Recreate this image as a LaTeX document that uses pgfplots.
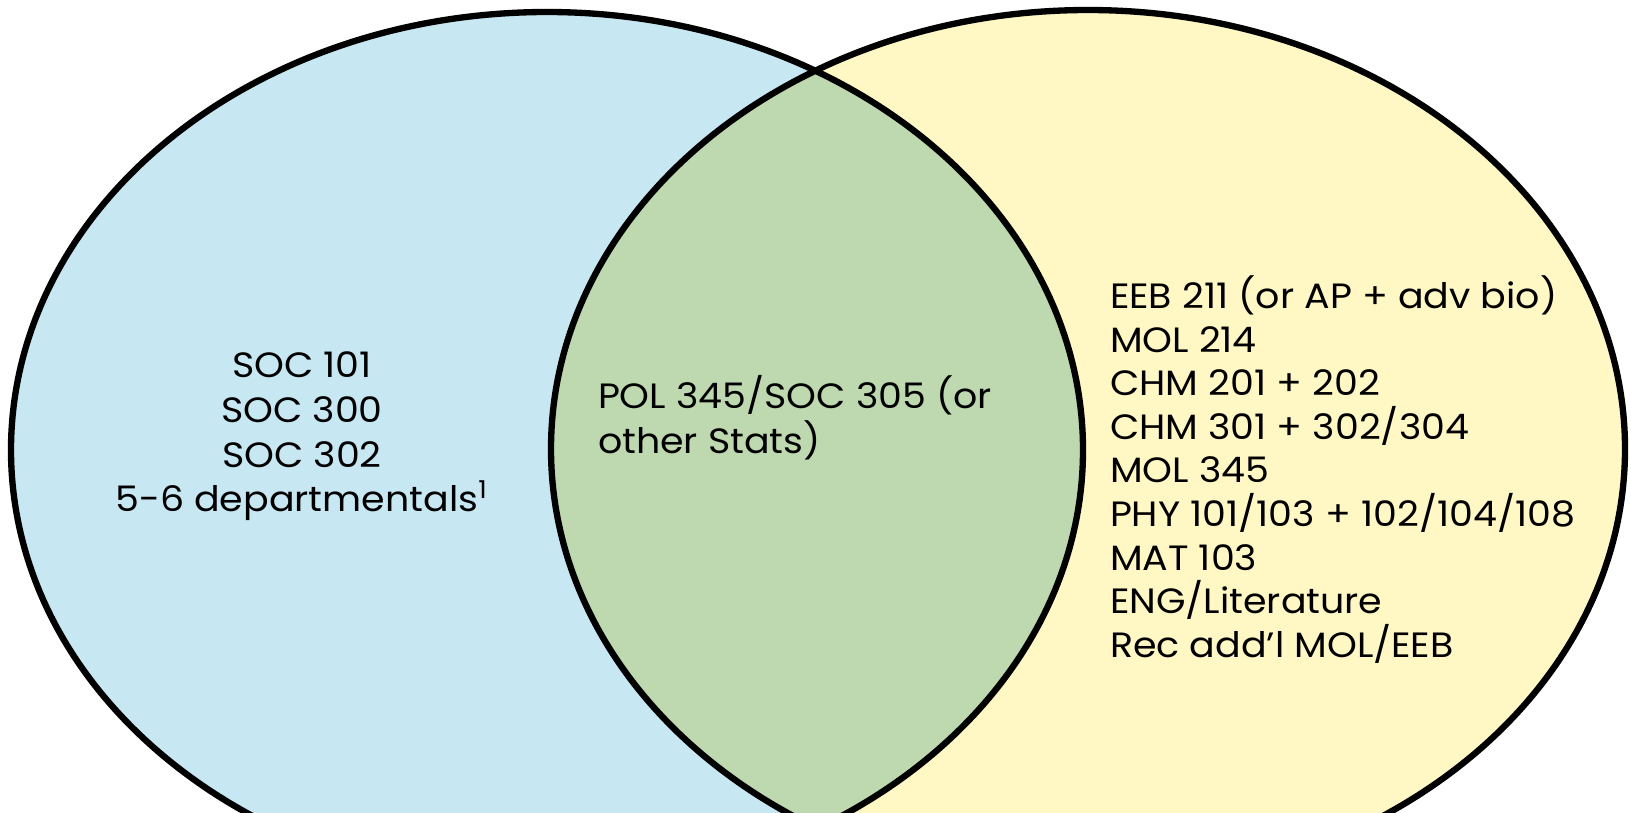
\documentclass[border=0pt]{standalone}
\usepackage{pgfplots}
\pgfplotsset{compat=1.18}
\usepackage{fontspec}
\setmainfont{Poppins}[FakeStretch=1.08]
\definecolor{lblue}{RGB}{199,232,243}
\definecolor{lyellow}{RGB}{255,247,196}
\definecolor{lgreen}{RGB}{190,217,176}
\tikzset{lbl/.style={font=\fontsize{10pt}{12.7pt}\selectfont, inner sep=0pt, outer sep=0pt}}
\begin{document}
\begin{tikzpicture}
\begin{axis}[
  scale only axis, width=16.31cm, height=8.12cm,
  xmin=0, xmax=1631, ymin=0, ymax=812,
  hide axis, clip=true,
]
% left set (blue)
\fill[lblue] (axis cs:547,362) ellipse [x radius=536, y radius=438];
% right set (yellow)
\fill[lyellow] (axis cs:1088,363) ellipse [x radius=537, y radius=439];
% intersection (green)
\begin{scope}
  \clip (axis cs:547,362) ellipse [x radius=536, y radius=438];
  \fill[lgreen] (axis cs:1088,363) ellipse [x radius=537, y radius=439];
\end{scope}
\draw[black, line width=1.8pt] (axis cs:547,362) ellipse [x radius=536, y radius=438];
\draw[black, line width=1.8pt] (axis cs:1088,363) ellipse [x radius=537, y radius=439];
% left texts
\node[lbl, anchor=base] at (axis cs:302,435) {SOC 101};
\node[lbl, anchor=base] at (axis cs:302,390) {SOC 300};
\node[lbl, anchor=base] at (axis cs:302,345) {SOC 302};
\node[lbl, anchor=base] at (axis cs:302,301) {5-6 departmentals\textsuperscript{1}};
% middle texts
\node[lbl, anchor=base west] at (axis cs:598,404) {POL 345/SOC 305 (or};
\node[lbl, anchor=base west] at (axis cs:598,359) {other Stats)};
% right texts
\node[lbl, anchor=base west] at (axis cs:1110,504) {EEB 211 (or AP + adv bio)};
\node[lbl, anchor=base west] at (axis cs:1110,460) {MOL 214};
\node[lbl, anchor=base west] at (axis cs:1110,417) {CHM 201 + 202};
\node[lbl, anchor=base west] at (axis cs:1110,373) {CHM 301 + 302/304};
\node[lbl, anchor=base west] at (axis cs:1110,330) {MOL 345};
\node[lbl, anchor=base west] at (axis cs:1110,286) {PHY 101/103 + 102/104/108};
\node[lbl, anchor=base west] at (axis cs:1110,242) {MAT 103};
\node[lbl, anchor=base west] at (axis cs:1110,199) {ENG/Literature};
\node[lbl, anchor=base west] at (axis cs:1110,155) {Rec add’l MOL/EEB};
\end{axis}
\pgfresetboundingbox
\path[use as bounding box] (current axis.south west) rectangle (current axis.north east);
\end{tikzpicture}
\end{document}
